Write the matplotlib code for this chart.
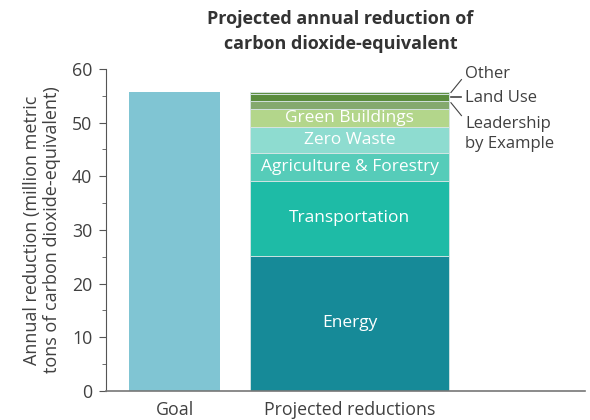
import matplotlib
matplotlib.use("Agg")
import matplotlib.pyplot as plt
from matplotlib.ticker import MultipleLocator

plt.rcParams['font.family'] = ['Open Sans', 'DejaVu Sans']

categories = ["Goal", "Projected reductions"]
goal_value = 55.7
segment_names = ["Energy", "Transportation", "Agriculture & Forestry", "Zero Waste",
                 "Green Buildings", "Leadership by Example", "Land Use", "Other"]
segment_values = [25.2, 14.0, 5.2, 4.8, 3.3, 1.6, 1.3, 0.3]
segment_colors = ["#168a98", "#1ebba6", "#56ccb9", "#8edcd0",
                  "#b3d68b", "#84a96e", "#5a8c3d", "#5f9042"]
inside_labels = ["Energy", "Transportation", "Agriculture & Forestry", "Zero Waste",
                 "Green Buildings", None, None, None]
outside_labels = ["Other", "Land Use", "Leadership\nby Example"]

fig = plt.figure(figsize=(5.9, 4.2), dpi=100)
ax = fig.add_axes([0.180, 0.069, 0.812, 0.767])

x = [0, 1]
ax.bar(x[0], goal_value, width=0.52, color="#80c5d3", edgecolor="none")

bottom = 0
for name, val, col, lab in zip(segment_names, segment_values, segment_colors, inside_labels):
    ax.bar(x[1], val, bottom=bottom, width=1.137, color=col,
           edgecolor="#d8e6e6", linewidth=0.6)
    if lab:
        ax.text(x[1], bottom + val / 2, lab, ha="center", va="center",
                color="white", fontsize=12.5)
    bottom += val

total = bottom
right_edge = x[1] + 1.137 / 2
txt_col = "#404040"
lead_col = "#444444"
ax.plot([right_edge + 0.01, right_edge + 0.07], [total - 0.1, total + 2.3], color=lead_col, lw=0.8, clip_on=False)
ax.text(right_edge + 0.09, total + 3.4, outside_labels[0], ha="left", va="center", fontsize=12, color=txt_col)
lu_mid = total - segment_values[7] - segment_values[6] / 2
ax.plot([right_edge + 0.01, right_edge + 0.07], [lu_mid + 0.1, lu_mid + 0.1], color=lead_col, lw=1.2, clip_on=False)
ax.text(right_edge + 0.09, lu_mid - 0.1, outside_labels[1], ha="left", va="center", fontsize=12, color=txt_col)
ld_mid = total - segment_values[7] - segment_values[6] - segment_values[5] / 2
ax.plot([right_edge + 0.01, right_edge + 0.07], [ld_mid + 0.4, ld_mid - 2.0], color=lead_col, lw=0.8, clip_on=False)
ax.text(right_edge + 0.09, ld_mid - 5.5, outside_labels[2], ha="left", va="center", fontsize=12,
        color=txt_col, linespacing=1.35)

ax.set_xlim(-0.391, 2.346)
ax.set_ylim(0, 60)
ax.set_xticks(x)
ax.set_xticklabels(categories, fontsize=12.8, color=txt_col)
ax.tick_params(axis="x", length=0, pad=7)
ax.yaxis.set_major_locator(MultipleLocator(10))
ax.yaxis.set_minor_locator(MultipleLocator(5))
ax.tick_params(axis="y", which="major", length=5, labelsize=12.8, labelcolor=txt_col, color="#555555", pad=5)
ax.tick_params(axis="y", which="minor", length=3, color="#555555")
for s in ["top", "right"]:
    ax.spines[s].set_visible(False)
ax.spines["left"].set_color("#555555")
ax.spines["bottom"].set_color("#777777")
ax.spines["bottom"].set_linewidth(1.2)

ax.set_ylabel("Annual reduction (million metric\ntons of carbon dioxide-equivalent)",
              fontsize=13, color=txt_col, linespacing=1.15, labelpad=8)

fig.text(0.577, 0.925, "Projected annual reduction of\ncarbon dioxide-equivalent",
         ha="center", va="center", fontsize=13, fontweight="bold", color="#333333", linespacing=1.45)

fig.savefig("out.png", dpi=100)
